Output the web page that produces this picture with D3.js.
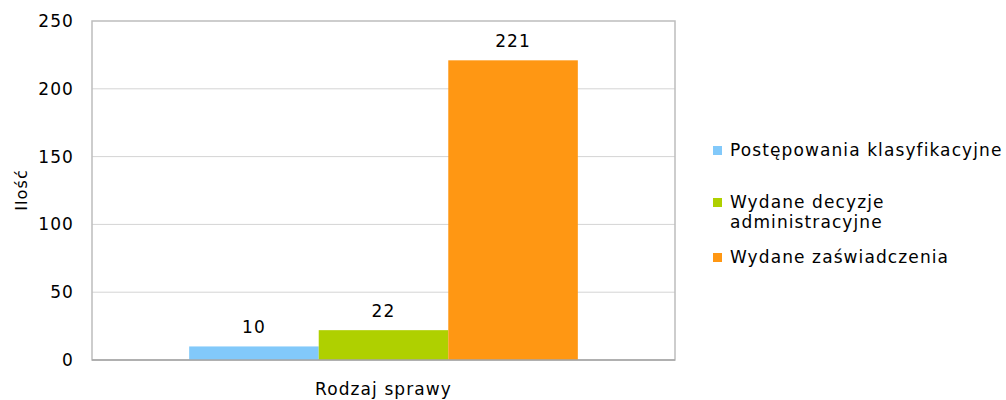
<!DOCTYPE html>
<html>
<head>
<meta charset="utf-8">
<title>Rodzaj sprawy</title>
<script src="https://cdn.jsdelivr.net/npm/d3@7"></script>
<style>
  body { margin: 0; background: #fff; }
  text { font-family: "DejaVu Sans", sans-serif; fill: #000; letter-spacing: 1.1px; }
</style>
</head>
<body>
<script>
// data
var category = ["Rodzaj sprawy"];
var seriesNames = ["Postępowania klasyfikacyjne", "Wydane decyzje administracyjne", "Wydane zaświadczenia"];
var seriesValues = [10, 22, 221];
var seriesColors = ["#82c9fa", "#afd000", "#ff9713"];
var yTicks = [0, 50, 100, 150, 200, 250];

var w = 1006, h = 400;
var plotLeft = 92, plotRight = 675, plotTop = 21, plotBottom = 360;

var svg = d3.select("body").append("svg")
    .attr("width", w)
    .attr("height", h);

var y = d3.scaleLinear().domain([0, 250]).range([plotBottom, plotTop]);
var x0 = d3.scaleBand().domain(category).range([plotLeft, plotRight]).paddingInner(0).paddingOuter(0.25);
var x1 = d3.scaleBand().domain(seriesNames).range([0, x0.bandwidth()]);

// gridlines
svg.append("g").selectAll("line")
    .data(yTicks.filter(function(d){ return d > 0 && d < 250; }))
    .enter().append("line")
    .attr("x1", plotLeft).attr("x2", plotRight)
    .attr("y1", function(d){ return y(d); })
    .attr("y2", function(d){ return y(d); })
    .attr("stroke", "#d4d4d4")
    .attr("stroke-width", 1);

// plot frame
svg.append("rect")
    .attr("x", plotLeft).attr("y", plotTop)
    .attr("width", plotRight - plotLeft).attr("height", plotBottom - plotTop)
    .attr("fill", "none")
    .attr("stroke", "#bdbdbd")
    .attr("stroke-width", 1.5);

// bars
var g = svg.append("g").attr("transform", "translate(" + x0(category[0]) + ",0)");
g.selectAll("rect")
    .data(seriesValues)
    .enter().append("rect")
    .attr("x", function(d, i){ return x1(seriesNames[i]); })
    .attr("y", function(d){ return y(d); })
    .attr("width", x1.bandwidth())
    .attr("height", function(d){ return y(0) - y(d); })
    .attr("fill", function(d, i){ return seriesColors[i]; });

// value labels
g.selectAll("text.value")
    .data(seriesValues)
    .enter().append("text")
    .attr("class", "value")
    .attr("x", function(d, i){ return x1(seriesNames[i]) + x1.bandwidth() / 2; })
    .attr("y", function(d){ return y(d) - 13; })
    .attr("text-anchor", "middle")
    .attr("font-size", "17px")
    .text(function(d){ return d; });

// bottom axis line
svg.append("line")
    .attr("x1", plotLeft).attr("x2", plotRight)
    .attr("y1", plotBottom).attr("y2", plotBottom)
    .attr("stroke", "#a6a6a6")
    .attr("stroke-width", 1.5);

// y tick labels
svg.append("g").selectAll("text")
    .data(yTicks)
    .enter().append("text")
    .attr("x", 74)
    .attr("y", function(d){ return y(d); })
    .attr("dy", "0.35em")
    .attr("text-anchor", "end")
    .attr("font-size", "17px")
    .text(function(d){ return d; });

// axis titles
svg.append("text")
    .attr("transform", "translate(27,190) rotate(-90)")
    .attr("text-anchor", "middle")
    .attr("font-size", "16px")
    .text("Ilość");

svg.append("text")
    .attr("x", (plotLeft + plotRight) / 2)
    .attr("y", 395)
    .attr("text-anchor", "middle")
    .attr("font-size", "17px")
    .text(category[0]);

// legend
var legendY = [150, 202, 257];
var legendLines = [["Postępowania klasyfikacyjne"], ["Wydane decyzje", "administracyjne"], ["Wydane zaświadczenia"]];
var leg = svg.append("g").selectAll("g")
    .data(seriesNames)
    .enter().append("g")
    .attr("transform", function(d, i){ return "translate(713," + legendY[i] + ")"; });
leg.append("rect")
    .attr("x", 0).attr("y", -4)
    .attr("width", 9).attr("height", 9)
    .attr("fill", function(d, i){ return seriesColors[i]; });
leg.append("text")
    .attr("x", 17)
    .attr("y", 0)
    .attr("font-size", "17px")
    .selectAll("tspan")
    .data(function(d, i){ return legendLines[i]; })
    .enter().append("tspan")
    .attr("x", 17)
    .attr("dy", function(d, j){ return j === 0 ? "0.35em" : "1.15em"; })
    .text(function(d){ return d; });
</script>
</body>
</html>
